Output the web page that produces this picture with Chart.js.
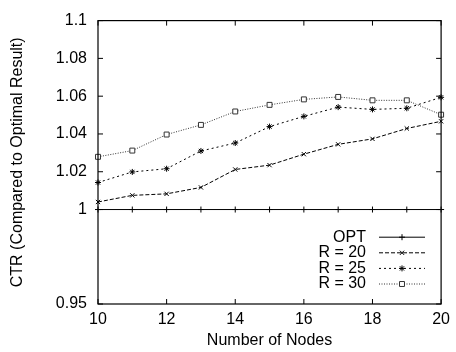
<!DOCTYPE html>
<html>
<head>
<meta charset="utf-8">
<script src="https://cdn.jsdelivr.net/npm/chart.js@4/dist/chart.umd.min.js"></script>
<style>
  html, body { margin: 0; padding: 0; background: #fff; }
  #wrap { width: 456px; height: 352px; }
</style>
</head>
<body>
<div id="wrap"><canvas id="myChart" width="456" height="352"></canvas></div>
<script>
const nodes = [10, 11, 12, 13, 14, 15, 16, 17, 18, 19, 20];
const opt = [1, 1, 1, 1, 1, 1, 1, 1, 1, 1, 1];
const r20 = [1.004, 1.0075, 1.0083, 1.0117, 1.0212, 1.0235, 1.0293, 1.0345, 1.0374, 1.0429, 1.0467];
const r25 = [1.0143, 1.0199, 1.0216, 1.031, 1.0352, 1.0439, 1.0493, 1.0542, 1.053, 1.0536, 1.0594];
const r30 = [1.0279, 1.0312, 1.0397, 1.0448, 1.0519, 1.0554, 1.0583, 1.0596, 1.0578, 1.0578, 1.0502];
const yTicks = [0.95, 1, 1.02, 1.04, 1.06, 1.08, 1.1];
const seriesNames = ["OPT", "R = 20", "R = 25", "R = 30"];

const FONT = "'Liberation Sans', Arial, sans-serif";

function pts(vals) {
    return nodes.map((n, i) => ({ x: n, y: vals[i] }));
}

const styles = [
    { color: "#000", dash: [], point: "cross", radius: 3 },
    { color: "#000", dash: [4, 2], point: "crossRot", radius: 3 },
    { color: "#000", dash: [2, 3], point: "star", radius: 3 },
    { color: "#333", dash: [1, 1.5], point: "rect", radius: 3.5 }
];
const allData = [opt, r20, r25, r30];

// gnuplot style frame, inward ticks and legend
const frame = {
    id: "frame",
    afterDatasetsDraw(chart) {
        const { ctx, chartArea: a, scales } = chart;
        ctx.save();
        ctx.strokeStyle = "#000";
        ctx.lineWidth = 1.2;
        ctx.strokeRect(a.left, a.top, a.right - a.left, a.bottom - a.top);
        ctx.lineWidth = 1;
        const t = 5;
        ctx.beginPath();
        scales.x.ticks.forEach(tk => {
            const px = scales.x.getPixelForValue(tk.value);
            ctx.moveTo(px, a.bottom); ctx.lineTo(px, a.bottom - t);
            ctx.moveTo(px, a.top); ctx.lineTo(px, a.top + t);
        });
        scales.y.ticks.forEach(tk => {
            const py = scales.y.getPixelForValue(tk.value);
            ctx.moveTo(a.left, py); ctx.lineTo(a.left + t, py);
            ctx.moveTo(a.right, py); ctx.lineTo(a.right - t, py);
        });
        ctx.stroke();

        // legend
        ctx.font = "16px " + FONT;
        ctx.textAlign = "right";
        ctx.textBaseline = "middle";
        ctx.fillStyle = "#000";
        const n = seriesNames.length;
        seriesNames.forEach((name, i) => {
            const y = a.bottom - 20 - (n - 1 - i) * 15.6;
            const s = styles[i];
            ctx.fillText(name, 366, y);
            ctx.save();
            ctx.strokeStyle = s.color;
            ctx.lineWidth = 1;
            ctx.setLineDash(s.dash);
            ctx.beginPath();
            ctx.moveTo(379, y); ctx.lineTo(425, y);
            ctx.stroke();
            ctx.setLineDash([]);
            ctx.fillStyle = "#fff";
            Chart.helpers.drawPoint(ctx, { pointStyle: s.point, radius: s.radius, rotation: 0, borderWidth: 1 }, 402, y);
            ctx.restore();
        });
        ctx.restore();
    }
};

new Chart("myChart", {
    type: "line",
    data: {
        datasets: seriesNames.map((name, i) => ({
            label: name,
            data: pts(allData[i]),
            borderColor: styles[i].color,
            borderWidth: 1,
            borderDash: styles[i].dash,
            pointStyle: styles[i].point,
            pointRadius: styles[i].radius,
            pointBorderColor: styles[i].color,
            pointBackgroundColor: "#fff",
            pointBorderWidth: 1,
            tension: 0,
            clip: 8
        }))
    },
    plugins: [frame],
    options: {
        responsive: false,
        animation: false,
        layout: { padding: { top: 17, right: 12, left: 0, bottom: 0 } },
        plugins: {
            legend: { display: false },
            tooltip: { enabled: false }
        },
        scales: {
            x: {
                type: "linear",
                min: 10,
                max: 20,
                grid: { display: false, drawTicks: false },
                border: { display: false },
                ticks: { stepSize: 2, padding: 6, color: "#000", font: { family: FONT, size: 16 }, maxRotation: 0 },
                title: { display: true, text: "Number of Nodes", color: "#000", font: { family: FONT, size: 16 }, padding: { top: 0, bottom: 2 } },
                afterFit: s => { s.height = 48; }
            },
            y: {
                min: 0.95,
                max: 1.1,
                grid: { display: false, drawTicks: false },
                border: { display: false },
                afterBuildTicks: s => { s.ticks = yTicks.map(v => ({ value: v })); },
                ticks: { padding: 11, color: "#000", font: { family: FONT, size: 16 }, callback: v => String(v) },
                title: { display: true, text: "CTR (Compared to Optimal Result)", color: "#000", font: { family: FONT, size: 16 }, padding: { top: 8, bottom: 0 } },
                afterFit: s => { s.width = 98; }
            }
        }
    }
});
</script>
</body>
</html>
